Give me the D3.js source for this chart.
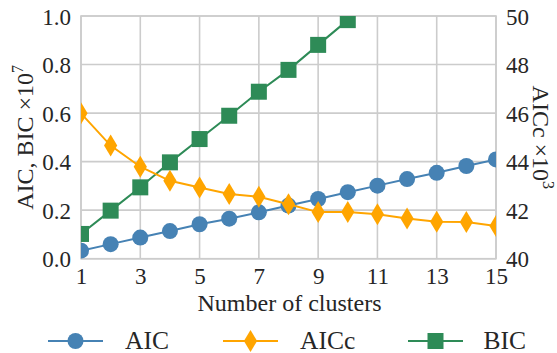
<!DOCTYPE html>
<html>
<head>
<meta charset="utf-8">
<script src="https://cdn.jsdelivr.net/npm/d3@7"></script>
<style>
  html, body { margin: 0; padding: 0; background: #fff; }
  svg text { font-family: "Liberation Serif", "DejaVu Serif", serif; fill: #262626; }
</style>
</head>
<body>
<svg id="chart" width="557" height="353"></svg>
<script>
// Information criteria versus number of clusters
const clusters = [1, 2, 3, 4, 5, 6, 7, 8, 9, 10, 11, 12, 13, 14, 15];
const aic  = [0.033, 0.060, 0.087, 0.114, 0.142, 0.165, 0.191, 0.219, 0.246, 0.274, 0.301, 0.328, 0.354, 0.382, 0.409]; // ×10^7
const aicc = [45.99, 44.66, 43.79, 43.21, 42.93, 42.67, 42.55, 42.24, 41.92, 41.92, 41.83, 41.66, 41.52, 41.51, 41.35]; // ×10^3
const bic  = [0.102, 0.198, 0.294, 0.397, 0.493, 0.589, 0.688, 0.778, 0.881, 0.983]; // ×10^7
const xTicks = [1, 3, 5, 7, 9, 11, 13, 15];
const leftTicks = [0.0, 0.2, 0.4, 0.6, 0.8, 1.0];
const rightTicks = [40, 42, 44, 46, 48, 50];

const colors = { aic: "#4682b4", aicc: "#ffa500", bic: "#2e8b57" };
const grid = "#cccccc";

const svg = d3.select("#chart");
const m = { left: 81, right: 496, top: 16, bottom: 258.7 };

const x = d3.scaleLinear().domain([1, 15]).range([m.left, m.right]);
const yL = d3.scaleLinear().domain([0, 1]).range([m.bottom, m.top]);
const yR = d3.scaleLinear().domain([40, 50]).range([m.bottom, m.top]);

svg.append("defs").append("clipPath").attr("id", "plotClip")
  .append("rect")
  .attr("x", m.left).attr("y", m.top)
  .attr("width", m.right - m.left).attr("height", m.bottom - m.top);

// grid
const g = svg.append("g");
g.selectAll(".vg").data(xTicks).join("line")
  .attr("x1", d => x(d)).attr("x2", d => x(d))
  .attr("y1", m.top).attr("y2", m.bottom)
  .attr("stroke", grid).attr("stroke-width", 1.6);
g.selectAll(".hg").data(leftTicks).join("line")
  .attr("y1", d => yL(d)).attr("y2", d => yL(d))
  .attr("x1", m.left).attr("x2", m.right)
  .attr("stroke", grid).attr("stroke-width", 1.6);
// frame
g.append("rect")
  .attr("x", m.left).attr("y", m.top)
  .attr("width", m.right - m.left).attr("height", m.bottom - m.top)
  .attr("fill", "none").attr("stroke", grid).attr("stroke-width", 1.6);

// tick labels drawn via d3 axes with no lines
const fs = 23;
const lbl = 24;
const xAxis = svg.append("g").attr("transform", `translate(0,${m.bottom})`)
  .call(d3.axisBottom(x).tickValues(xTicks).tickFormat(d3.format("d")).tickSize(0).tickPadding(0));
xAxis.select(".domain").remove();
xAxis.selectAll("text").attr("dy", null).attr("y", 25.5)
  .style("font-size", fs + "px").style("font-family", "Liberation Serif").attr("fill", "#262626");

const lAxis = svg.append("g").attr("transform", `translate(${m.left},0)`)
  .call(d3.axisLeft(yL).tickValues(leftTicks).tickFormat(d3.format(".1f")).tickSize(0).tickPadding(0));
lAxis.select(".domain").remove();
lAxis.selectAll("text").attr("x", -10).attr("dy", "0.36em")
  .style("font-size", fs + "px").style("font-family", "Liberation Serif").attr("fill", "#262626");

const rAxis = svg.append("g").attr("transform", `translate(${m.right},0)`)
  .call(d3.axisRight(yR).tickValues(rightTicks).tickFormat(d3.format("d")).tickSize(0).tickPadding(0));
rAxis.select(".domain").remove();
rAxis.selectAll("text").attr("x", 10).attr("dy", "0.36em")
  .style("font-size", fs + "px").style("font-family", "Liberation Serif").attr("fill", "#262626");

// axis titles
svg.append("text")
  .attr("x", (m.left + m.right) / 2 + 1).attr("y", 311)
  .attr("text-anchor", "middle").style("font-size", lbl + "px")
  .text("Number of clusters");

const lt = svg.append("text")
  .attr("transform", `translate(33,${(m.top + m.bottom) / 2}) rotate(-90)`)
  .attr("text-anchor", "middle").style("font-size", lbl + "px");
lt.append("tspan").text("AIC, BIC \u00d710");
lt.append("tspan").attr("dy", -10).style("font-size", "16px").text("7");

const rt = svg.append("text")
  .attr("transform", `translate(533,${(m.top + m.bottom) / 2}) rotate(90)`)
  .attr("text-anchor", "middle").style("font-size", lbl + "px");
rt.append("tspan").text("AICc \u00d710");
rt.append("tspan").attr("dy", -10).style("font-size", "16px").text("3");

// series
const plot = svg.append("g").attr("clip-path", "url(#plotClip)");

function series(vals, yScale, color, shape) {
  const pts = vals.map((v, i) => [x(clusters[i]), yScale(v)]);
  const grp = plot.append("g");
  grp.append("path")
    .attr("d", d3.line()(pts))
    .attr("fill", "none").attr("stroke", color).attr("stroke-width", 2);
  drawMarkers(grp, pts, color, shape);
}

function drawMarkers(grp, pts, color, shape) {
  if (shape === "circle") {
    grp.selectAll("circle").data(pts).join("circle")
      .attr("cx", d => d[0]).attr("cy", d => d[1]).attr("r", 8).attr("fill", color);
  } else if (shape === "square") {
    grp.selectAll("rect").data(pts).join("rect")
      .attr("x", d => d[0] - 8).attr("y", d => d[1] - 8)
      .attr("width", 16).attr("height", 16).attr("fill", color);
  } else {
    grp.selectAll("path.mk").data(pts).join("path").attr("class", "mk")
      .attr("d", d => `M${d[0]},${d[1] - 11}L${d[0] + 6.6},${d[1]}L${d[0]},${d[1] + 11}L${d[0] - 6.6},${d[1]}Z`)
      .attr("fill", color);
  }
}

series(aic, yL, colors.aic, "circle");
series(bic, yL, colors.bic, "square");
series(aicc, yR, colors.aicc, "diamond");

// legend
const legend = [
  { name: "AIC", color: colors.aic, shape: "circle", x0: 48, tx: 125 },
  { name: "AICc", color: colors.aicc, shape: "diamond", x0: 223, tx: 300 },
  { name: "BIC", color: colors.bic, shape: "square", x0: 408, tx: 483.5 }
];
const ly = 341;
legend.forEach(l => {
  const lg = svg.append("g");
  lg.append("line").attr("x1", l.x0).attr("x2", l.x0 + 55).attr("y1", ly).attr("y2", ly)
    .attr("stroke", l.color).attr("stroke-width", 2);
  drawMarkers(lg, [[l.x0 + 27.5, ly]], l.color, l.shape);
  lg.append("text").attr("x", l.tx).attr("y", 348.5)
    .style("font-size", "25.5px").text(l.name);
});
</script>
</body>
</html>
